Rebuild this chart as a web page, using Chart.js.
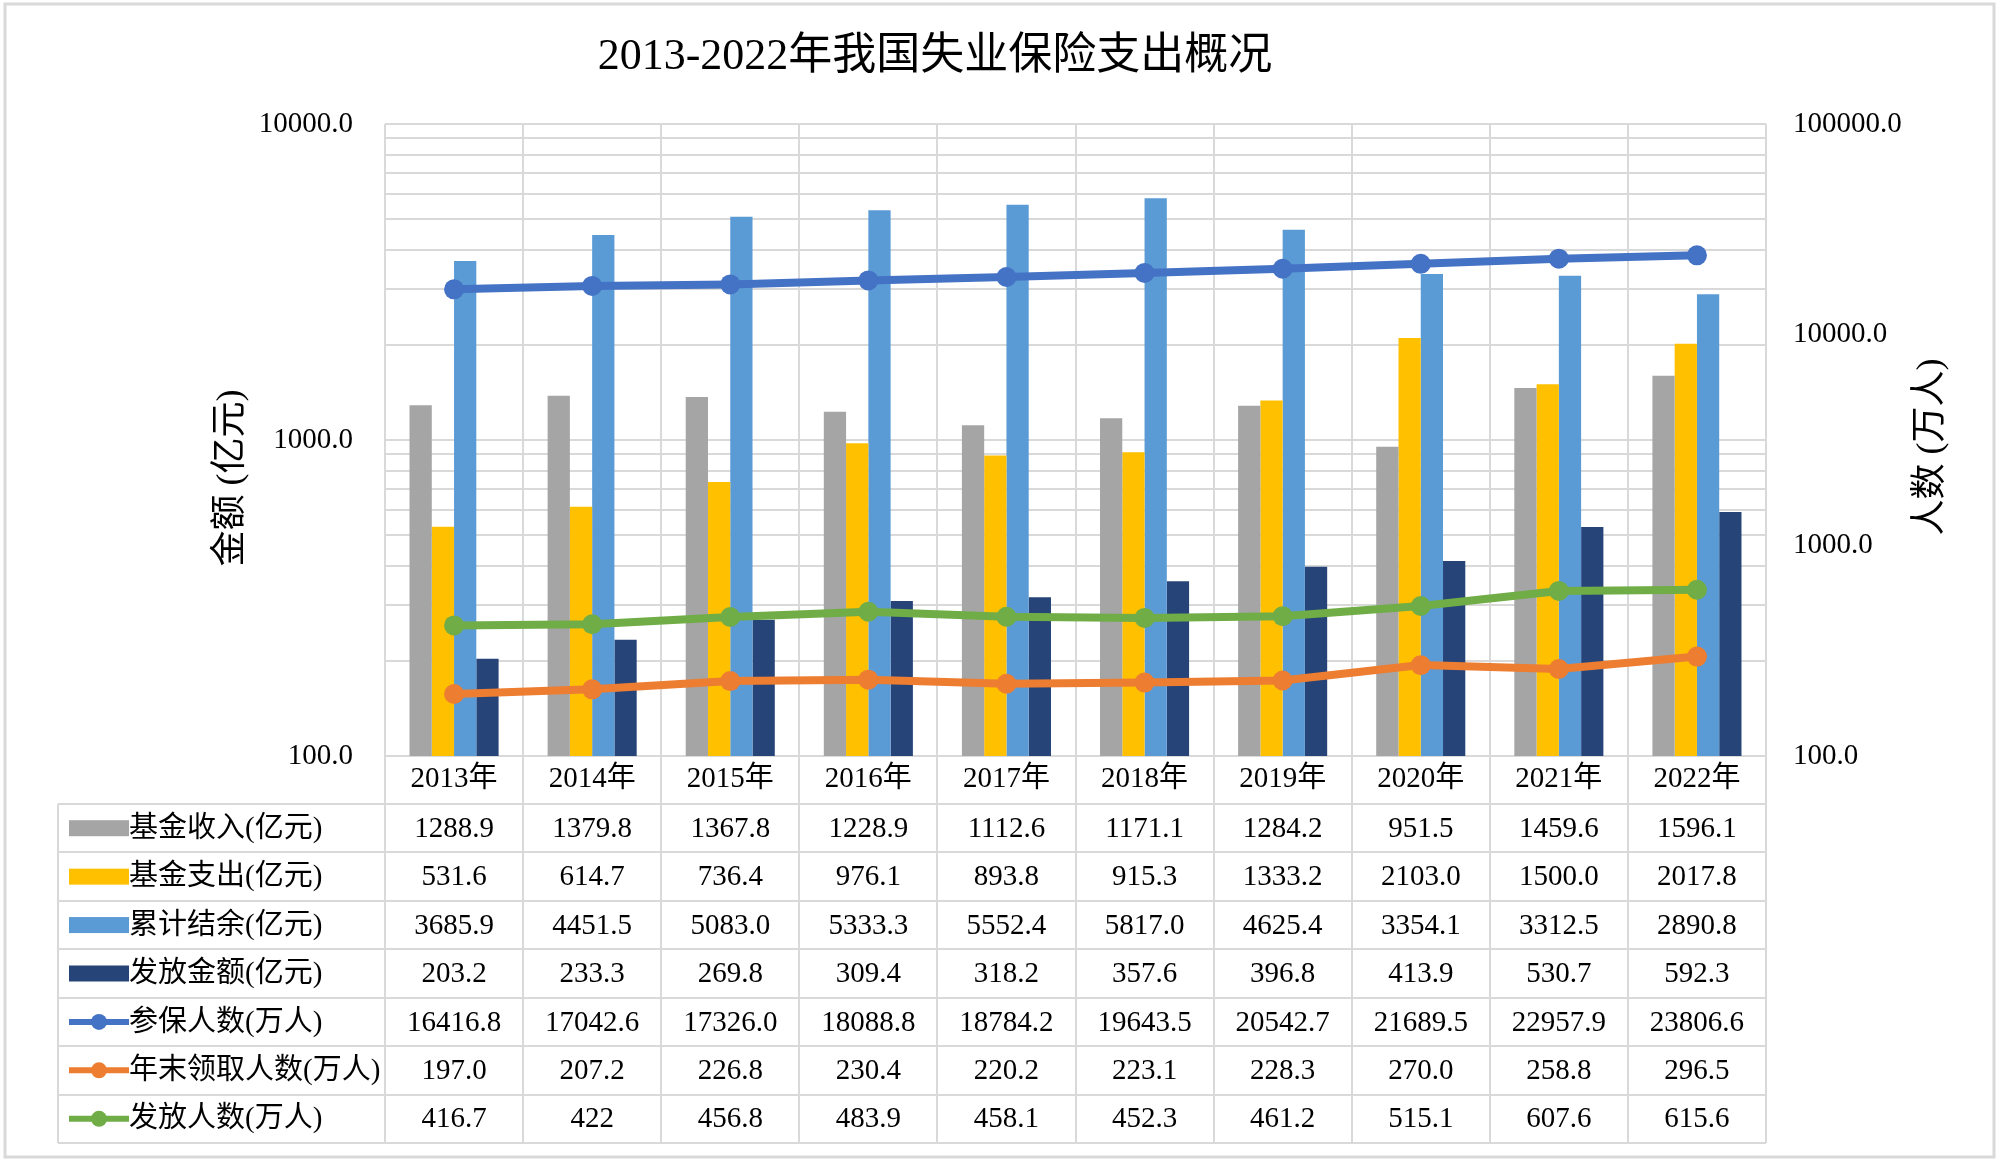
<!DOCTYPE html>
<html><head><meta charset="utf-8">
<script src="https://cdn.jsdelivr.net/npm/chart.js@4/dist/chart.umd.min.js"></script>
<style>html,body{margin:0;padding:0;background:#fff;overflow:hidden}</style>
</head><body>
<canvas id="c" width="1999" height="1163" style="width:1999px;height:1163px;display:block"></canvas>
<script>
// ---------- data ----------
const years = ['2013年','2014年','2015年','2016年','2017年','2018年','2019年','2020年','2021年','2022年'];
const jijinShouru  = [1288.9,1379.8,1367.8,1228.9,1112.6,1171.1,1284.2,951.5,1459.6,1596.1];
const jijinZhichu  = [531.6,614.7,736.4,976.1,893.8,915.3,1333.2,2103.0,1500.0,2017.8];
const leijiJieyu   = [3685.9,4451.5,5083.0,5333.3,5552.4,5817.0,4625.4,3354.1,3312.5,2890.8];
const fafangJine   = [203.2,233.3,269.8,309.4,318.2,357.6,396.8,413.9,530.7,592.3];
const canbaoRenshu = [16416.8,17042.6,17326.0,18088.8,18784.2,19643.5,20542.7,21689.5,22957.9,23806.6];
const nianmoLingqu = [197.0,207.2,226.8,230.4,220.2,223.1,228.3,270.0,258.8,296.5];
const fafangRenshu = [416.7,422,456.8,483.9,458.1,452.3,461.2,515.1,607.6,615.6];
const seriesNames = ['基金收入(亿元)','基金支出(亿元)','累计结余(亿元)','发放金额(亿元)','参保人数(万人)','年末领取人数(万人)','发放人数(万人)'];
const leftMajorTicks  = [100, 1000, 10000];
const rightMajorTicks = [100, 1000, 10000, 100000];
const chartTitle = '2013-2022年我国失业保险支出概况';
const leftTitle = '金额 (亿元)';
const rightTitle = '人数 (万人)';

// ---------- styles ----------
const FONT = "'Liberation Serif','Times New Roman','Noto Sans CJK SC',serif";
const GRID = '#D9D9D9';
const colors = ['#A5A5A5','#FFC000','#5B9BD5','#264478','#4472C4','#ED7D31','#70AD47'];
const TABLE_TOP = 804, TABLE_BOTTOM = 1143, TABLE_LEFT = 58;

function minorTicks(lo, hi){
  const out = [];
  for (let d = lo; d < hi; d *= 10) for (let m = 1; m < 10; m++) out.push({value: d*m});
  out.push({value: hi});
  return out;
}
function fmt(v){ return Number.isInteger(v) && v === 422 ? String(v) : v.toFixed(1); }

const barSets = [jijinShouru, jijinZhichu, leijiJieyu, fafangJine];
const lineSets = [canbaoRenshu, nianmoLingqu, fafangRenshu];
const allRows = barSets.concat(lineSets);

const datasets = [];
barSets.forEach((d,i)=>datasets.push({
  type:'bar', label: seriesNames[i], data: d, yAxisID:'yL', order: 2,
  backgroundColor: colors[i], borderWidth: 0, barPercentage: 1.0, categoryPercentage: 0.645
}));
lineSets.forEach((d,i)=>datasets.push({
  type:'line', label: seriesNames[4+i], data: d, yAxisID:'yR', order: 1,
  borderColor: colors[4+i], backgroundColor: colors[4+i], borderWidth: 8,
  pointRadius: 10, pointHoverRadius: 10, pointBorderWidth: 0, tension: 0
}));

const decor = {
  id:'decor',
  beforeDraw(chart){
    const ctx = chart.ctx;
    ctx.save(); ctx.fillStyle = '#fff'; ctx.fillRect(0,0,chart.width,chart.height); ctx.restore();
  },
  afterDraw(chart){
    const ctx = chart.ctx, x = chart.scales.x, ca = chart.chartArea;
    ctx.save();
    // table grid
    ctx.strokeStyle = GRID; ctx.lineWidth = 2;
    const n = years.length, step = (ca.right - ca.left)/n;
    for (let i=0;i<=n;i++){
      const px = Math.round(ca.left + i*step);
      ctx.beginPath(); ctx.moveTo(px, ca.bottom); ctx.lineTo(px, TABLE_BOTTOM); ctx.stroke();
    }
    ctx.beginPath(); ctx.moveTo(TABLE_LEFT, TABLE_TOP); ctx.lineTo(TABLE_LEFT, TABLE_BOTTOM); ctx.stroke();
    const rows = allRows.length, rh = (TABLE_BOTTOM - TABLE_TOP)/rows;
    for (let r=0;r<=rows;r++){
      const py = Math.round(TABLE_TOP + r*rh);
      ctx.beginPath(); ctx.moveTo(TABLE_LEFT, py); ctx.lineTo(ca.right, py); ctx.stroke();
    }
    // table content
    ctx.fillStyle = '#000';
    ctx.font = '29px ' + FONT;
    ctx.textBaseline = 'middle';
    for (let r=0;r<rows;r++){
      const cy = TABLE_TOP + (r+0.5)*rh;
      if (r < 4){
        ctx.fillStyle = colors[r]; ctx.fillRect(69, cy-8, 60, 16);
      } else {
        ctx.strokeStyle = colors[r]; ctx.lineWidth = 6;
        ctx.beginPath(); ctx.moveTo(69, cy); ctx.lineTo(129, cy); ctx.stroke();
        ctx.fillStyle = colors[r]; ctx.beginPath(); ctx.arc(99, cy, 8, 0, Math.PI*2); ctx.fill();
      }
      ctx.fillStyle = '#000'; ctx.textAlign = 'left';
      ctx.fillText(seriesNames[r], 129, cy+1);
      ctx.textAlign = 'center';
      allRows[r].forEach((v,i)=>{ ctx.fillText(fmt(v), x.getPixelForValue(i), cy+1); });
    }
    // title
    ctx.font = '44px ' + FONT; ctx.textAlign = 'center';
    ctx.fillText(chartTitle, 935, 57);
    // axis titles
    ctx.font = '36px ' + FONT;
    ctx.save(); ctx.translate(232, 478); ctx.rotate(-Math.PI/2); ctx.fillText(leftTitle, 0, 0); ctx.restore();
    ctx.save(); ctx.translate(1932, 447); ctx.rotate(-Math.PI/2); ctx.fillText(rightTitle, 0, 0); ctx.restore();
    // outer frame
    ctx.strokeStyle = GRID; ctx.lineWidth = 3;
    ctx.strokeRect(5, 4, 1989, 1153);
    ctx.restore();
  }
};

new Chart(document.getElementById('c'), {
  data: { labels: years, datasets },
  options: {
    responsive: false, animation: false, devicePixelRatio: 1,
    layout: { padding: { top: 124, bottom: 1163 - TABLE_TOP, left: 0, right: 0 } },
    plugins: { legend: { display: false }, title: { display: false }, tooltip: { enabled: false } },
    scales: {
      x: {
        type: 'category', offset: true,
        grid: { offset: true, color: GRID, lineWidth: 2, drawTicks: false },
        border: { display: false },
        ticks: { color: '#000', font: { family: FONT, size: 29 }, padding: 6, maxRotation: 0, autoSkip: false },
        afterFit(s){ s.height = 48; }
      },
      yL: {
        type: 'logarithmic', position: 'left', min: 100, max: 10000,
        afterBuildTicks(s){ s.ticks = minorTicks(100, 10000); },
        grid: { color: GRID, lineWidth: 2, drawTicks: false },
        border: { display: false },
        ticks: { color: '#000', font: { family: FONT, size: 29 }, padding: 32, autoSkip: false,
          callback: v => leftMajorTicks.includes(v) ? v.toFixed(1) : '' },
        afterFit(s){ s.width = 385; }
      },
      yR: {
        type: 'logarithmic', position: 'right', min: 100, max: 100000,
        afterBuildTicks(s){ s.ticks = rightMajorTicks.map(v=>({value:v})); },
        grid: { display: false, drawTicks: false },
        border: { display: false },
        ticks: { color: '#000', font: { family: FONT, size: 29 }, padding: 27, autoSkip: false,
          callback: v => v.toFixed(1) },
        afterFit(s){ s.width = 1999 - 1766; }
      }
    }
  },
  plugins: [decor]
});
</script>
</body></html>
